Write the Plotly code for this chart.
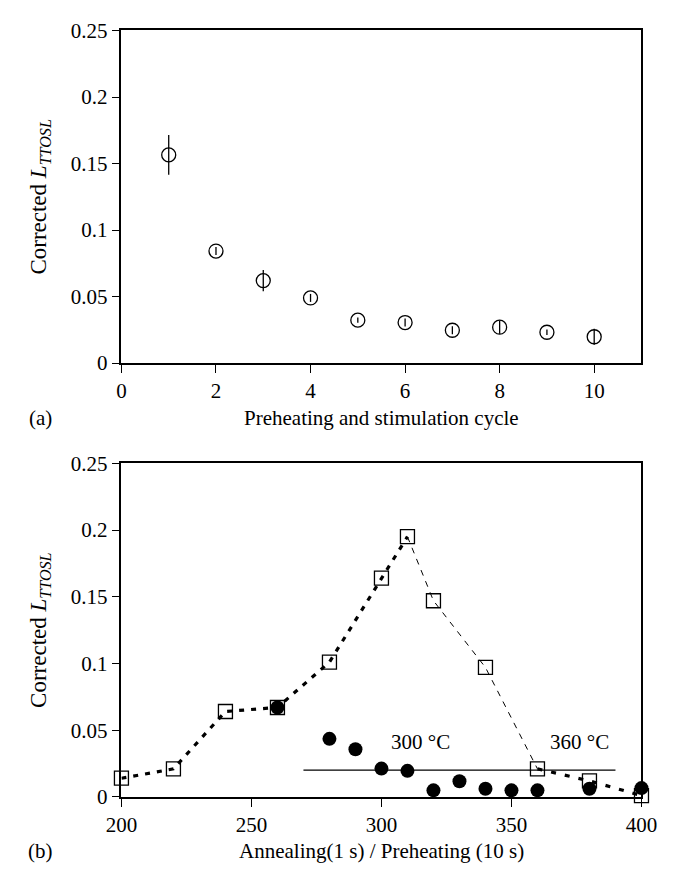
import plotly.graph_objects as go

# Panel (a): corrected TT-OSL over repeated preheat/stimulation cycles
cycle = [1, 2, 3, 4, 5, 6, 7, 8, 9, 10]
ttosl_cycle = [0.1565, 0.0842, 0.0620, 0.0490, 0.0323, 0.0305, 0.0247, 0.0270, 0.0232, 0.0198]
ttosl_cycle_err = [0.015, 0.003, 0.008, 0.003, 0.002, 0.003, 0.003, 0.005, 0.002, 0.006]

# Panel (b): annealing (1 s) curve and preheating (10 s) curve
anneal_temp = [200, 220, 240, 260, 280, 300, 310, 320, 340, 360, 380, 400]
anneal_val = [0.014, 0.021, 0.064, 0.067, 0.101, 0.164, 0.195, 0.147, 0.097, 0.021, 0.012, 0.001]

preheat_temp = [260, 280, 290, 300, 310, 320, 330, 340, 350, 360, 380, 400]
preheat_val = [0.067, 0.0435, 0.0357, 0.0212, 0.0195, 0.0049, 0.0117, 0.0061, 0.0049, 0.0049, 0.0061, 0.0066]

ref_level = 0.02
ref_span = [270, 390]
temp_labels = [("300 °C", 315, 0.0413), ("360 °C", 376, 0.0413)]

W, H = 673, 876
FONT = "Liberation Serif"
TICK_SIZE = 21
TITLE_SIZE = 21
YTITLE_SIZE = 23


def px_x(p):
    return p / W


def px_y(p):
    return 1 - p / H


# plot-area pixel boxes
LEFT, RIGHT = 110.7, 656.7
A_TOP, A_BOT = 19, 361
B_TOP, B_BOT = 464, 807

fig = go.Figure()

# (a) open circles with vertical error bars
fig.add_trace(go.Scatter(
    x=cycle, y=ttosl_cycle, mode="markers",
    marker=dict(symbol="circle-open", size=14, color="black", line=dict(width=1.3)),
    error_y=dict(type="data", array=ttosl_cycle_err, visible=True,
                 color="black", thickness=1.3, width=0),
    xaxis="x", yaxis="y", cliponaxis=False, showlegend=False,
))

# (b) connecting line of the annealing curve: heavy dashes on the rise and tail,
# light dashes on the steep fall
rise_idx = [i for i, t in enumerate(anneal_temp) if t <= 310]
fall_idx = [i for i, t in enumerate(anneal_temp) if 310 <= t <= 360]
tail_idx = [i for i, t in enumerate(anneal_temp) if t >= 360]

for idx, width, dash in [(rise_idx, 3.2, "5px,7px"),
                         (fall_idx, 1.0, "6px,6px"),
                         (tail_idx, 3.2, "5px,9px")]:
    fig.add_trace(go.Scatter(
        x=[anneal_temp[i] for i in idx], y=[anneal_val[i] for i in idx],
        mode="lines", line=dict(color="black", width=width, dash=dash),
        xaxis="x2", yaxis="y2", showlegend=False, hoverinfo="skip",
    ))

# (b) annealing points: open squares
fig.add_trace(go.Scatter(
    x=anneal_temp, y=anneal_val, mode="markers",
    marker=dict(symbol="square-open", size=14, color="black", line=dict(width=1.3)),
    xaxis="x2", yaxis="y2", cliponaxis=False, showlegend=False,
))

# (b) preheating points: filled circles
fig.add_trace(go.Scatter(
    x=preheat_temp, y=preheat_val, mode="markers",
    marker=dict(symbol="circle", size=14, color="black"),
    xaxis="x2", yaxis="y2", cliponaxis=False, showlegend=False,
))

# reference level line
fig.add_shape(type="line", xref="x2", yref="y2",
              x0=ref_span[0], x1=ref_span[1], y0=ref_level, y1=ref_level,
              line=dict(color="black", width=1.2))

for text, tx, ty in temp_labels:
    fig.add_annotation(x=tx, y=ty, xref="x2", yref="y2", text=text,
                       showarrow=False, font=dict(size=TITLE_SIZE, family=FONT, color="black"))

axis_common = dict(
    showline=True, linecolor="black", linewidth=1.5, mirror=True,
    ticks="outside", ticklen=8, tickwidth=1.3, tickcolor="black",
    showgrid=False, zeroline=False,
    tickfont=dict(size=TICK_SIZE, family=FONT, color="black"),
)

y_ticks = [0, 0.05, 0.1, 0.15, 0.2, 0.25]
y_text = ["0", "0.05", "0.1", "0.15", "0.2", "0.25"]

fig.update_layout(
    width=W, height=H,
    margin=dict(l=0, r=0, t=0, b=0),
    paper_bgcolor="white", plot_bgcolor="white",
    xaxis=dict(axis_common, domain=[px_x(LEFT), px_x(RIGHT)], anchor="y",
               range=[0, 11], tickvals=[0, 2, 4, 6, 8, 10]),
    yaxis=dict(axis_common, domain=[px_y(A_BOT), px_y(A_TOP)], anchor="x",
               range=[0, 0.25], tickvals=y_ticks, ticktext=y_text),
    xaxis2=dict(axis_common, domain=[px_x(LEFT), px_x(RIGHT)], anchor="y2",
                range=[200, 400], tickvals=[200, 250, 300, 350, 400]),
    yaxis2=dict(axis_common, domain=[px_y(B_BOT), px_y(B_TOP)], anchor="x2",
                range=[0, 0.25], tickvals=y_ticks, ticktext=y_text),
)

title_font = dict(size=TITLE_SIZE, family=FONT, color="black")
ytitle_font = dict(size=YTITLE_SIZE, family=FONT, color="black")
ylabel = "Corrected <i>L</i><sub><i>TTOSL</i></sub>"

# axis titles and panel tags
for top, bot, xtitle, tag in [(A_TOP, A_BOT, "Preheating and stimulation cycle", "(a)"),
                              (B_TOP, B_BOT, "Annealing(1 s) / Preheating (10 s)", "(b)")]:
    fig.add_annotation(x=px_x(25), y=px_y((top + bot) / 2), xref="paper", yref="paper",
                       text=ylabel, textangle=-90, showarrow=False, font=ytitle_font,
                       xanchor="center", yanchor="middle")
    fig.add_annotation(x=px_x((LEFT + RIGHT) / 2), y=px_y(bot + 56), xref="paper", yref="paper",
                       text=xtitle, showarrow=False, font=title_font,
                       xanchor="center", yanchor="middle")
    fig.add_annotation(x=px_x(26), y=px_y(bot + 56), xref="paper", yref="paper",
                       text=tag, showarrow=False, font=title_font,
                       xanchor="center", yanchor="middle")

# keep the page flush with the window edges
fig.write_html("out.html", post_script="document.body.style.margin='0';")
